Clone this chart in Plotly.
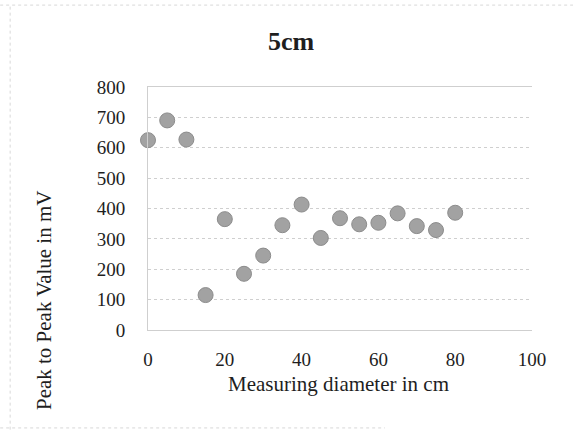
import plotly.graph_objects as go

# Measurement positions (cm) and peak-to-peak amplitudes (mV)
diameter_cm = [0, 5, 10, 15, 20, 25, 30, 35, 40, 45, 50, 55, 60, 65, 70, 75, 80]
peak_to_peak_mv = [625, 690, 627, 115, 365, 185, 245, 345, 413, 303, 368, 348, 353, 384, 342, 329, 386]

x_ticks = [0, 20, 40, 60, 80, 100]
y_ticks = [0, 100, 200, 300, 400, 500, 600, 700, 800]

SERIF = "Liberation Serif, Times New Roman, serif"
GRID = "#cfcfcf"
TEXT = "#1e1e1e"

fig = go.Figure()
fig.add_trace(go.Scatter(
    x=diameter_cm,
    y=peak_to_peak_mv,
    mode="markers",
    marker=dict(size=15, color="#a2a2a2", line=dict(width=1, color="#8c8c8c")),
    cliponaxis=False,
    showlegend=False,
))

fig.update_layout(
    width=573,
    height=432,
    margin=dict(l=148, r=41, t=87, b=102),
    paper_bgcolor="white",
    plot_bgcolor="white",
    font=dict(family=SERIF, size=19, color=TEXT),
    title=dict(text="<b>5cm</b>", x=0.508, xanchor="center", y=0.906, yanchor="middle",
               font=dict(family=SERIF, size=26, color=TEXT)),
)

fig.update_xaxes(
    range=[0, 100],
    tickvals=x_ticks,
    showgrid=False,
    zeroline=False,
    showline=True,
    linecolor=GRID,
    linewidth=1,
    mirror=True,
    ticks="",
    ticklabelstandoff=12,
    tickfont=dict(family=SERIF, size=19, color=TEXT),
)
fig.update_yaxes(
    range=[0, 800],
    tickvals=y_ticks,
    showgrid=True,
    gridcolor=GRID,
    griddash="dot",
    gridwidth=1,
    zeroline=False,
    showline=True,
    linecolor=GRID,
    linewidth=1,
    ticks="",
    ticklabelstandoff=18,
    tickfont=dict(family=SERIF, size=19, color=TEXT),
)

# Axis titles
fig.add_annotation(text="Measuring diameter in cm", xref="paper", yref="paper",
                   x=0.495, y=-0.222, xanchor="center", yanchor="middle", showarrow=False,
                   font=dict(family=SERIF, size=21, color=TEXT))
fig.add_annotation(text="Peak to Peak Value in mV", xref="paper", yref="paper",
                   x=-0.271, y=0.123, xanchor="center", yanchor="middle", showarrow=False,
                   textangle=-90, font=dict(family=SERIF, size=21, color=TEXT))

# Faint dotted chart-area frame (top, left and bottom edges)
for x0, y0, x1, y1 in [(-0.385, 1.337, 1.107, 1.337),
                       (-0.359, -0.41, -0.359, 1.337),
                       (-0.385, -0.403, 0.617, -0.403)]:
    fig.add_shape(type="line", xref="paper", yref="paper", layer="below",
                  x0=x0, y0=y0, x1=x1, y1=y1, line=dict(color="#d8d8d8", width=1, dash="dot"))

fig.write_html("out.html")
